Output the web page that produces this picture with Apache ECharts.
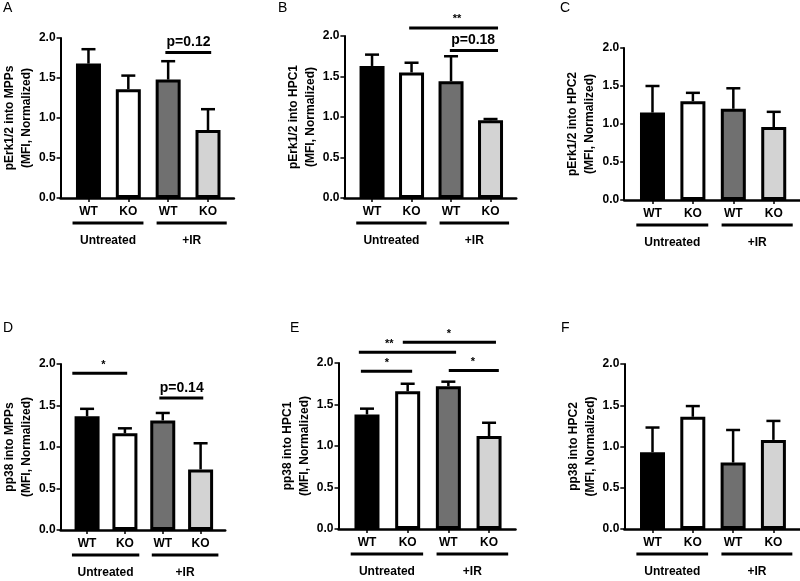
<!DOCTYPE html>
<html><head><meta charset="utf-8">
<script src="https://cdn.jsdelivr.net/npm/echarts@6/dist/echarts.min.js"></script>
<style>html,body{margin:0;padding:0;background:#fff}#c{width:800px;height:581px}</style>
</head><body><div id="c"></div>
<script>
// ---- data ----
const categories = ['WT', 'KO', 'WT', 'KO'];
const groupNames = ['Untreated', '+IR'];
const groupSpans = [[-0.4, 1.38], [1.71, 3.47]];
const panelLetters = ['A', 'B', 'C', 'D', 'E', 'F'];
const yTitles = ['pErk1/2 into MPPs', 'pErk1/2 into HPC1', 'pErk1/2 into HPC2',
                 'pp38 into MPPs', 'pp38 into HPC1', 'pp38 into HPC2'];
const yTitle2 = '(MFI, Normalized)';
const yTickValues = [0, 0.5, 1.0, 1.5, 2.0];

const meansA = [1.68, 1.36, 1.48, 0.85];  const errA = [0.18, 0.17, 0.23, 0.26];
const meansB = [1.63, 1.55, 1.44, 0.96];  const errB = [0.14, 0.12, 0.31, 0.015];
const meansC = [1.15, 1.30, 1.20, 0.96];  const errC = [0.35, 0.11, 0.27, 0.20];
const meansD = [1.37, 1.165, 1.32, 0.73]; const errD = [0.09, 0.06, 0.09, 0.315];
const meansE = [1.38, 1.66, 1.72, 1.12];  const errE = [0.07, 0.09, 0.055, 0.16];
const meansF = [0.93, 1.36, 0.805, 1.08]; const errF = [0.30, 0.13, 0.395, 0.23];

// significance brackets: [from, to, y, textX], label
const sigA = [[1.93, 3.08, 1.82, 2.51]];           const sigTextA = ['p=0.12'];
const sigB = [[0.94, 3.19, 2.10, 2.15], [1.97, 3.19, 1.82, 2.56]]; const sigTextB = ['**', 'p=0.18'];
const sigC = [];                                    const sigTextC = [];
const sigD = [[-0.39, 1.06, 1.89, 0.43], [1.91, 3.07, 1.59, 2.50]]; const sigTextD = ['*', 'p=0.14'];
const sigE = [[0.88, 3.17, 2.25, 2.01], [-0.20, 2.19, 2.13, 0.55],
              [-0.15, 1.11, 1.90, 0.49], [2.01, 3.24, 1.91, 2.60]]; const sigTextE = ['*', '**', '*', '*'];
const sigF = [];                                    const sigTextF = [];

// ---- layout / style ----
const barColors = ['#000000', '#ffffff', '#707070', '#d3d3d3'];
const FONT = 'Liberation Sans, Arial, sans-serif';
const panels = [
  {means: meansA, err: errA, sig: sigA, sigText: sigTextA, grid: {left: 57.0, width: 176.9, top: 38, height: 160}, letter: [3, 1]},
  {means: meansB, err: errB, sig: sigB, sigText: sigTextB, grid: {left: 344.4, width: 171.8, top: 36, height: 162}, letter: [278, 1]},
  {means: meansC, err: errC, sig: sigC, sigText: sigTextC, grid: {left: 624.2, width: 176.2, top: 48, height: 152}, letter: [560, 1]},
  {means: meansD, err: errD, sig: sigD, sigText: sigTextD, grid: {left: 56.9, width: 168.3, top: 364, height: 166}, letter: [3, 321]},
  {means: meansE, err: errE, sig: sigE, sigText: sigTextE, grid: {left: 338.5, width: 177.0, top: 363, height: 166}, letter: [290, 321]},
  {means: meansF, err: errF, sig: sigF, sigText: sigTextF, grid: {left: 624.3, width: 175.3, top: 364, height: 165}, letter: [561, 321]}
];

const grids = [], xAxes = [], yAxes = [], series = [], graphics = [];
panels.forEach((p, i) => {
  grids.push(Object.assign({containLabel: false}, p.grid));
  xAxes.push({
    type: 'value', gridIndex: i, min: -0.7, max: 3.65,
    splitLine: {show: false},
    axisLine: {show: true, onZero: false, lineStyle: {color: '#000', width: 2.5}},
    axisTick: {show: true, customValues: [0, 1, 2, 3], length: 4, lineStyle: {color: '#000', width: 1.5}},
    axisLabel: {show: true, customValues: [0, 1, 2, 3], formatter: v => categories[Math.round(v)],
      margin: 8, color: '#000', fontFamily: FONT, fontWeight: 'bold', fontSize: 12}
  });
  yAxes.push({
    type: 'value', gridIndex: i, min: 0, max: 2, interval: 0.5,
    splitLine: {show: false},
    axisLine: {show: true, onZero: false, lineStyle: {color: '#000', width: 2}},
    axisTick: {show: true, length: 4, lineStyle: {color: '#000', width: 1.5}},
    axisLabel: {formatter: v => v.toFixed(1), margin: 5, color: '#000', fontFamily: FONT, fontWeight: 'bold', fontSize: 12},
    name: yTitles[i] + '\n' + yTitle2, nameLocation: 'middle', nameGap: 24, nameRotate: 90,
    nameTextStyle: {color: '#000', fontFamily: FONT, fontWeight: 'bold', fontSize: 12, lineHeight: 17}
  });
  series.push({
    type: 'bar', xAxisIndex: i, yAxisIndex: i, barWidth: 25, z: 2,
    data: p.means.map((m, k) => ({value: [k, m], itemStyle: {color: barColors[k]}})),
    itemStyle: {borderColor: '#000', borderWidth: 3}
  });
  series.push({
    type: 'custom', xAxisIndex: i, yAxisIndex: i, z: 3, clip: false,
    data: p.means.map((m, k) => [k, m, p.err[k]]),
    renderItem: (params, api) => {
      const x = api.value(0), m = api.value(1), e = api.value(2);
      const a = api.coord([x, m]), b = api.coord([x, m + e]);
      return {type: 'group', children: [
        {type: 'line', shape: {x1: a[0], y1: a[1], x2: b[0], y2: b[1]}, style: {stroke: '#000', lineWidth: 2.5}},
        {type: 'line', shape: {x1: b[0] - 7, y1: b[1], x2: b[0] + 7, y2: b[1]}, style: {stroke: '#000', lineWidth: 2.5}}
      ]};
    }
  });
  if (p.sig.length) {
    series.push({
      type: 'custom', xAxisIndex: i, yAxisIndex: i, z: 4, clip: false,
      data: p.sig.map(s => [s[0], s[2], s[1], s[3]]),
      renderItem: (params, api) => {
        const from = api.value(0), y = api.value(1), to = api.value(2), tx = api.value(3);
        const a = api.coord([from, y]), b = api.coord([to, y]), t = api.coord([tx, y]);
        const txt = p.sigText[params.dataIndex];
        const isStar = txt.indexOf('*') === 0;
        return {type: 'group', children: [
          {type: 'line', shape: {x1: a[0], y1: a[1], x2: b[0], y2: b[1]}, style: {stroke: '#000', lineWidth: 3}},
          {type: 'text', x: t[0], y: a[1] - 3,
           style: {text: txt, align: 'center', verticalAlign: 'bottom', fill: '#000',
                   font: 'bold ' + (isStar ? 11 : 14) + 'px ' + FONT}}
        ]};
      }
    });
  }
  series.push({
    type: 'custom', xAxisIndex: i, yAxisIndex: i, z: 4, clip: false,
    data: groupSpans.map(g => [g[0], 0, g[1]]),
    renderItem: (params, api) => {
      const a = api.coord([api.value(0), 0]), b = api.coord([api.value(2), 0]);
      return {type: 'group', children: [
        {type: 'line', shape: {x1: a[0], y1: a[1] + 25, x2: b[0], y2: b[1] + 25}, style: {stroke: '#000', lineWidth: 3}},
        {type: 'text', x: (a[0] + b[0]) / 2, y: a[1] + 43,
         style: {text: groupNames[params.dataIndex], align: 'center', verticalAlign: 'middle', fill: '#000',
                 font: 'bold 12px ' + FONT}}
      ]};
    }
  });
  graphics.push({type: 'text', left: p.letter[0], top: p.letter[1],
    style: {text: panelLetters[i], fill: '#000', font: '14px ' + FONT}});
});

const chart = echarts.init(document.getElementById('c'), null, {renderer: 'canvas'});
chart.setOption({
  animation: false, backgroundColor: '#fff',
  grid: grids, xAxis: xAxes, yAxis: yAxes, series: series, graphic: graphics
});
</script></body></html>
